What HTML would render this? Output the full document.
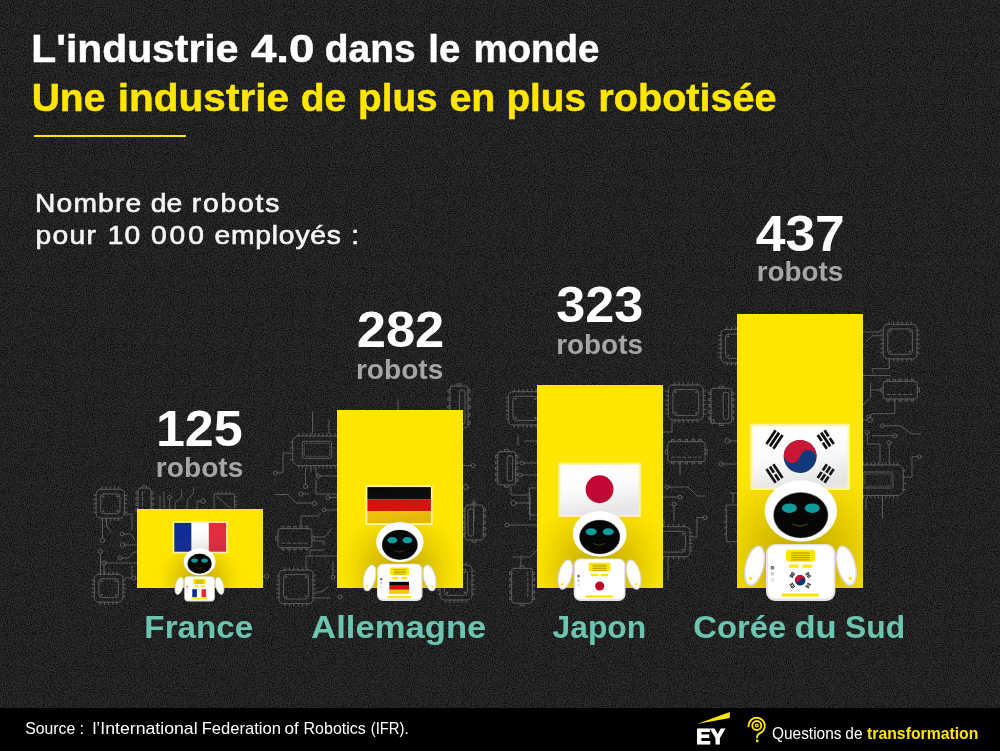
<!DOCTYPE html>
<html lang="fr"><head><meta charset="utf-8"><title>L'industrie 4.0 dans le monde</title>
<style>
html,body{margin:0;padding:0;background:#232323;}
#page{position:relative;width:1000px;height:751px;overflow:hidden;background:#232323;}
svg{display:block;position:absolute;left:0;top:0;}
text{font-family:"Liberation Sans",sans-serif;}
</style></head><body><div id="page">
<svg width="1000" height="751" viewBox="0 0 1000 751">
<defs>
<filter id="noise" x="0" y="0" width="100%" height="100%" color-interpolation-filters="sRGB">
<feTurbulence type="fractalNoise" baseFrequency="0.95" numOctaves="2" seed="4"/>
<feColorMatrix type="matrix" values="2.6 0 0 0 -0.86  2.6 0 0 0 -0.86  2.6 0 0 0 -0.86  0 0 0 0 1"/>
<feComponentTransfer><feFuncR type="table" tableValues="0.07 0.09 0.135 0.162 0.174 0.181"/><feFuncG type="table" tableValues="0.07 0.09 0.135 0.162 0.174 0.181"/><feFuncB type="table" tableValues="0.07 0.09 0.135 0.162 0.174 0.181"/></feComponentTransfer>
</filter>
<radialGradient id="shadow" cx="0.5" cy="0.5" r="0.5">
<stop offset="0" stop-color="#b89f00" stop-opacity="0.85"/>
<stop offset="0.45" stop-color="#c4aa00" stop-opacity="0.55"/>
<stop offset="1" stop-color="#d8bf00" stop-opacity="0"/>
</radialGradient>
<linearGradient id="sheen" x1="0" y1="0" x2="0.25" y2="1">
<stop offset="0" stop-color="#ffffff" stop-opacity="0.0"/>
<stop offset="0.55" stop-color="#888888" stop-opacity="0.04"/>
<stop offset="1" stop-color="#555555" stop-opacity="0.15"/>
</linearGradient>
<radialGradient id="headg" cx="0.45" cy="0.35" r="0.75">
<stop offset="0" stop-color="#ffffff"/><stop offset="0.8" stop-color="#ffffff"/><stop offset="1" stop-color="#dcdcdc"/>
</radialGradient>
<radialGradient id="armg" cx="0.5" cy="0.45" r="0.6">
<stop offset="0" stop-color="#ffffff"/><stop offset="0.75" stop-color="#ffffff"/><stop offset="1" stop-color="#e6e6e6"/>
</radialGradient>

<clipPath id="cb0"><rect x="137" y="509" width="126" height="79"/></clipPath>
<clipPath id="cb1"><rect x="337" y="410" width="126" height="178"/></clipPath>
<clipPath id="cb2"><rect x="537" y="385" width="126" height="203"/></clipPath>
<clipPath id="cb3"><rect x="737" y="314" width="126" height="274"/></clipPath>
</defs>
<rect width="1000" height="751" fill="#202020"/>
<rect width="1000" height="751" filter="url(#noise)"/>
<g fill="none" stroke="#666666" stroke-width="1" stroke-opacity="0.85" stroke-linecap="round" stroke-linejoin="round"><rect x="96.1" y="489.3" width="28.4" height="28.9" rx="4.5"/><rect x="100.7" y="493.9" width="19.2" height="19.7" rx="3.2"/><path d="M102.1,489.3v-2.4M102.1,518.2v2.4M96.1,495.3h-2.4M124.5,495.3h2.4M106.2,489.3v-2.4M106.2,518.2v2.4M96.1,499.5h-2.4M124.5,499.5h2.4M110.3,489.3v-2.4M110.3,518.2v2.4M96.1,503.8h-2.4M124.5,503.8h2.4M114.4,489.3v-2.4M114.4,518.2v2.4M96.1,508.0h-2.4M124.5,508.0h2.4M118.5,489.3v-2.4M118.5,518.2v2.4M96.1,512.2h-2.4M124.5,512.2h2.4"/><circle cx="103.3" cy="496.5" r="0.6"/><circle cx="117.3" cy="496.5" r="0.6"/><circle cx="103.3" cy="511.0" r="0.6"/><circle cx="117.3" cy="511.0" r="0.6"/><rect x="94.3" y="574.2" width="28.7" height="28.0" rx="4.5"/><rect x="98.9" y="578.8" width="19.5" height="18.8" rx="3.2"/><path d="M100.3,574.2v-2.4M100.3,602.2v2.4M94.3,580.2h-2.4M123.0,580.2h2.4M104.5,574.2v-2.4M104.5,602.2v2.4M94.3,584.2h-2.4M123.0,584.2h2.4M108.7,574.2v-2.4M108.7,602.2v2.4M94.3,588.2h-2.4M123.0,588.2h2.4M112.8,574.2v-2.4M112.8,602.2v2.4M94.3,592.2h-2.4M123.0,592.2h2.4M117.0,574.2v-2.4M117.0,602.2v2.4M94.3,596.2h-2.4M123.0,596.2h2.4"/><circle cx="101.5" cy="581.4" r="0.6"/><circle cx="115.8" cy="581.4" r="0.6"/><circle cx="101.5" cy="595.0" r="0.6"/><circle cx="115.8" cy="595.0" r="0.6"/><path d="M102.5,518.5V538"/><circle cx="102.5" cy="540.3" r="2.2"/><path d="M106.5,518.5V526L111,532"/><path d="M100.5,553.6V574"/><circle cx="100.5" cy="551.5" r="2.1"/><path d="M124,534H131L135,540"/><circle cx="122" cy="534" r="1.9"/><path d="M124.8,545H137"/><circle cx="122.6" cy="545" r="2.2"/><path d="M121.9,558H129L134,552H137"/><circle cx="120" cy="558" r="1.9"/><path d="M106,563H137M104,565V574"/><circle cx="104" cy="563" r="2"/><path d="M132,566V576M125,578H131.5"/><circle cx="133.7" cy="578" r="2.1"/><path d="M124.5,514H132V530"/><rect x="138.0" y="488.0" width="13.0" height="27.0" rx="2.5"/><path d="M138.0,491.8h-2.2v2.4h2.2M151.0,491.8h2.2v2.4h-2.2M138.0,497.5h-2.2v2.4h2.2M151.0,497.5h2.2v2.4h-2.2M138.0,503.1h-2.2v2.4h2.2M151.0,503.1h2.2v2.4h-2.2M138.0,508.8h-2.2v2.4h2.2M151.0,508.8h2.2v2.4h-2.2M142.5,488.0v-2.2h4v2.2M142.5,515.0v2.2h4v-2.2"/><path d="M142.5,492.0V511.0" stroke-dasharray="3.2 2.2"/><path d="M169.6,499.4V509"/><circle cx="169.6" cy="497.3" r="2"/><path d="M175.2,509V503L181.6,497V490"/><path d="M187.2,509V500L193.6,493V488"/><path d="M201,501.2H197V509"/><circle cx="203.3" cy="501.2" r="2.3"/><path d="M160,509V496M164,509V492"/><path d="M214.4,494H234.4V512H214.4ZM216.5,496L232.5,510"/><path d="M218,494v-2.4M222,494v-2.4M226,494v-2.4M230,494v-2.4M234.4,497h2.4M234.4,501h2.4M234.4,505h2.4"/><path d="M263,576.4H264.3"/><circle cx="266.5" cy="576.3" r="2.1"/><path d="M296.7,436.0H341.0L345.0,440.0V461.6L341.0,465.6H296.7L292.7,461.6V440.0Z"/><rect x="302.3" y="441.3" width="29.4" height="17.0" rx="1.5"/><rect x="304.3" y="443.3" width="25.4" height="13.0" rx="1" opacity="0.6"/><path d="M298.7,436.0v-2.4M298.7,465.6v2.4M302.7,436.0v-2.4M302.7,465.6v2.4M306.8,436.0v-2.4M306.8,465.6v2.4M310.8,436.0v-2.4M310.8,465.6v2.4M314.8,436.0v-2.4M314.8,465.6v2.4M318.9,436.0v-2.4M318.9,465.6v2.4M322.9,436.0v-2.4M322.9,465.6v2.4M326.9,436.0v-2.4M326.9,465.6v2.4M330.9,436.0v-2.4M330.9,465.6v2.4M335.0,436.0v-2.4M335.0,465.6v2.4M339.0,436.0v-2.4M339.0,465.6v2.4M292.7,442.0h-2.4M345.0,442.0h2.4M292.7,447.9h-2.4M345.0,447.9h2.4M292.7,453.7h-2.4M345.0,453.7h2.4M292.7,459.6h-2.4M345.0,459.6h2.4"/><path d="M312.5,412V433.5M329,420V433.5M398,400V410"/><path d="M290.3,453H283V473H277.6"/><circle cx="275.5" cy="473" r="2.1"/><path d="M305.5,468V484.3"/><circle cx="305.5" cy="486.5" r="2.1"/><path d="M311,468V472M316,468V474L318,476"/><path d="M320.2,476H337M316,480V494H337"/><circle cx="318.2" cy="476" r="2"/><path d="M303,494H309"/><circle cx="300.8" cy="494" r="2.1"/><path d="M275,494.5H288L296,503H312.3"/><circle cx="314.5" cy="503.5" r="2.1"/><path d="M330,497.5H337"/><circle cx="328" cy="497.5" r="2"/><path d="M326,510H337"/><circle cx="324" cy="510" r="2"/><path d="M301,526.2V516H318L321,513"/><rect x="278.0" y="528.6" width="33.9" height="19.1" rx="2.5"/><path d="M281.8,528.6v-2.2h2.4v2.2M281.8,547.7v2.2h2.4v-2.2M287.8,528.6v-2.2h2.4v2.2M287.8,547.7v2.2h2.4v-2.2M293.8,528.6v-2.2h2.4v2.2M293.8,547.7v2.2h2.4v-2.2M299.7,528.6v-2.2h2.4v2.2M299.7,547.7v2.2h2.4v-2.2M305.7,528.6v-2.2h2.4v2.2M305.7,547.7v2.2h2.4v-2.2M278.0,536.2h-2.2v4h2.2M311.9,536.2h2.2v4h-2.2"/><path d="M282.0,543.2H307.9" stroke-dasharray="3.2 2.2"/><path d="M314.2,537H325L331,529M314.2,541H324V545"/><path d="M306,567.5V556H337M310,556V550H324"/><rect x="279.0" y="570.0" width="34.0" height="33.6" rx="4.5"/><rect x="283.6" y="574.6" width="24.8" height="24.4" rx="3.2"/><path d="M285.0,570.0v-2.4M285.0,603.6v2.4M279.0,576.0h-2.4M313.0,576.0h2.4M289.4,570.0v-2.4M289.4,603.6v2.4M279.0,580.3h-2.4M313.0,580.3h2.4M293.8,570.0v-2.4M293.8,603.6v2.4M279.0,584.6h-2.4M313.0,584.6h2.4M298.2,570.0v-2.4M298.2,603.6v2.4M279.0,589.0h-2.4M313.0,589.0h2.4M302.6,570.0v-2.4M302.6,603.6v2.4M279.0,593.3h-2.4M313.0,593.3h2.4M307.0,570.0v-2.4M307.0,603.6v2.4M279.0,597.6h-2.4M313.0,597.6h2.4"/><circle cx="286.2" cy="577.2" r="0.6"/><circle cx="305.8" cy="577.2" r="0.6"/><circle cx="286.2" cy="596.4" r="0.6"/><circle cx="305.8" cy="596.4" r="0.6"/><path d="M315.5,592H322L328,587M315.5,598H330"/><circle cx="340" cy="597" r="2"/><path d="M333,562V575"/><circle cx="333" cy="577.2" r="2"/><rect x="450.0" y="386.0" width="18.0" height="42.0" rx="2.5"/><path d="M450.0,389.8h-2.2v2.4h2.2M468.0,389.8h2.2v2.4h-2.2M450.0,397.8h-2.2v2.4h2.2M468.0,397.8h2.2v2.4h-2.2M450.0,405.8h-2.2v2.4h2.2M468.0,405.8h2.2v2.4h-2.2M450.0,413.8h-2.2v2.4h2.2M468.0,413.8h2.2v2.4h-2.2M450.0,421.8h-2.2v2.4h2.2M468.0,421.8h2.2v2.4h-2.2M457.0,386.0v-2.2h4v2.2M457.0,428.0v2.2h4v-2.2"/><rect x="459.5" y="390.0" width="5.5" height="34.0" rx="2.2"/><rect x="508.3" y="391.7" width="33.7" height="33.3" rx="4.5"/><rect x="512.9" y="396.3" width="24.5" height="24.1" rx="3.2"/><path d="M514.3,391.7v-2.4M514.3,425.0v2.4M508.3,397.7h-2.4M542.0,397.7h2.4M518.6,391.7v-2.4M518.6,425.0v2.4M508.3,402.0h-2.4M542.0,402.0h2.4M523.0,391.7v-2.4M523.0,425.0v2.4M508.3,406.2h-2.4M542.0,406.2h2.4M527.3,391.7v-2.4M527.3,425.0v2.4M508.3,410.5h-2.4M542.0,410.5h2.4M531.7,391.7v-2.4M531.7,425.0v2.4M508.3,414.7h-2.4M542.0,414.7h2.4M536.0,391.7v-2.4M536.0,425.0v2.4M508.3,419.0h-2.4M542.0,419.0h2.4"/><circle cx="515.5" cy="398.9" r="0.6"/><circle cx="534.8" cy="398.9" r="0.6"/><circle cx="515.5" cy="417.8" r="0.6"/><circle cx="534.8" cy="417.8" r="0.6"/><path d="M525,441H537M518,436V445"/><rect x="497.7" y="451.7" width="18.0" height="33.3" rx="2.5"/><path d="M497.7,455.5h-2.2v2.4h2.2M515.7,455.5h2.2v2.4h-2.2M497.7,461.3h-2.2v2.4h2.2M515.7,461.3h2.2v2.4h-2.2M497.7,467.2h-2.2v2.4h2.2M515.7,467.2h2.2v2.4h-2.2M497.7,473.0h-2.2v2.4h2.2M515.7,473.0h2.2v2.4h-2.2M497.7,478.8h-2.2v2.4h2.2M515.7,478.8h2.2v2.4h-2.2M504.7,451.7v-2.2h4v2.2M504.7,485.0v2.2h4v-2.2"/><rect x="507.2" y="455.7" width="5.5" height="25.3" rx="2.2"/><path d="M463,465.5H471"/><circle cx="473" cy="465.5" r="2"/><path d=""/><circle cx="466" cy="487" r="2.5"/><path d="M524,463H537M522,475H537"/><circle cx="522" cy="463" r="2"/><circle cx="520" cy="475" r="2"/><path d="M511,487.3V495H530V520M516,503H530"/><circle cx="513.5" cy="503" r="2.5"/><path d="M509,525H537"/><circle cx="507" cy="525" r="2"/><rect x="465.0" y="505.0" width="18.3" height="35.0" rx="2.5"/><path d="M465.0,508.8h-2.2v2.4h2.2M483.3,508.8h2.2v2.4h-2.2M465.0,515.0h-2.2v2.4h2.2M483.3,515.0h2.2v2.4h-2.2M465.0,521.3h-2.2v2.4h2.2M483.3,521.3h2.2v2.4h-2.2M465.0,527.5h-2.2v2.4h2.2M483.3,527.5h2.2v2.4h-2.2M465.0,533.8h-2.2v2.4h2.2M483.3,533.8h2.2v2.4h-2.2M472.1,505.0v-2.2h4v2.2M472.1,540.0v2.2h4v-2.2"/><rect x="468.0" y="509.0" width="5.5" height="27.0" rx="2.2"/><path d="M530,488H545V515H530ZM530,493h-2.4M530,498h-2.4M530,503h-2.4M530,508h-2.4"/><path d="M513,557H530L537,550M521,557V566"/><rect x="511.7" y="568.3" width="20.6" height="35.0" rx="2.5"/><path d="M511.7,572.1h-2.2v2.4h2.2M532.3,572.1h2.2v2.4h-2.2M511.7,578.3h-2.2v2.4h2.2M532.3,578.3h2.2v2.4h-2.2M511.7,584.6h-2.2v2.4h2.2M532.3,584.6h2.2v2.4h-2.2M511.7,590.8h-2.2v2.4h2.2M532.3,590.8h2.2v2.4h-2.2M511.7,597.1h-2.2v2.4h2.2M532.3,597.1h2.2v2.4h-2.2M520.0,568.3v-2.2h4v2.2M520.0,603.3v2.2h4v-2.2"/><path d="M527.8,572.3V599.3" stroke-dasharray="3.2 2.2"/><rect x="440.0" y="565.0" width="32.0" height="35.0" rx="4.5"/><rect x="444.6" y="569.6" width="22.8" height="25.8" rx="3.2"/><path d="M446.0,565.0v-2.4M446.0,600.0v2.4M440.0,571.0h-2.4M472.0,571.0h2.4M450.0,565.0v-2.4M450.0,600.0v2.4M440.0,575.6h-2.4M472.0,575.6h2.4M454.0,565.0v-2.4M454.0,600.0v2.4M440.0,580.2h-2.4M472.0,580.2h2.4M458.0,565.0v-2.4M458.0,600.0v2.4M440.0,584.8h-2.4M472.0,584.8h2.4M462.0,565.0v-2.4M462.0,600.0v2.4M440.0,589.4h-2.4M472.0,589.4h2.4M466.0,565.0v-2.4M466.0,600.0v2.4M440.0,594.0h-2.4M472.0,594.0h2.4"/><circle cx="447.2" cy="572.2" r="0.6"/><circle cx="464.8" cy="572.2" r="0.6"/><circle cx="447.2" cy="592.8" r="0.6"/><circle cx="464.8" cy="592.8" r="0.6"/><path d="M474,520V500"/><rect x="668.3" y="385.0" width="35.0" height="35.0" rx="4.5"/><rect x="672.9" y="389.6" width="25.8" height="25.8" rx="3.2"/><path d="M674.3,385.0v-2.4M674.3,420.0v2.4M668.3,391.0h-2.4M703.3,391.0h2.4M678.9,385.0v-2.4M678.9,420.0v2.4M668.3,395.6h-2.4M703.3,395.6h2.4M683.5,385.0v-2.4M683.5,420.0v2.4M668.3,400.2h-2.4M703.3,400.2h2.4M688.1,385.0v-2.4M688.1,420.0v2.4M668.3,404.8h-2.4M703.3,404.8h2.4M692.7,385.0v-2.4M692.7,420.0v2.4M668.3,409.4h-2.4M703.3,409.4h2.4M697.3,385.0v-2.4M697.3,420.0v2.4M668.3,414.0h-2.4M703.3,414.0h2.4"/><circle cx="675.5" cy="392.2" r="0.6"/><circle cx="696.1" cy="392.2" r="0.6"/><circle cx="675.5" cy="412.8" r="0.6"/><circle cx="696.1" cy="412.8" r="0.6"/><rect x="711.0" y="388.3" width="20.7" height="35.0" rx="2.5"/><path d="M711.0,392.1h-2.2v2.4h2.2M731.7,392.1h2.2v2.4h-2.2M711.0,398.4h-2.2v2.4h2.2M731.7,398.4h2.2v2.4h-2.2M711.0,404.6h-2.2v2.4h2.2M731.7,404.6h2.2v2.4h-2.2M711.0,410.9h-2.2v2.4h2.2M731.7,410.9h2.2v2.4h-2.2M711.0,417.1h-2.2v2.4h2.2M731.7,417.1h2.2v2.4h-2.2M719.4,388.3v-2.2h4v2.2M719.4,423.3v2.2h4v-2.2"/><rect x="723.2" y="392.3" width="5.5" height="27.0" rx="2.2"/><path d=""/><circle cx="712.5" cy="421.5" r="2"/><path d="M663,432H672V422.5"/><rect x="667.7" y="441.7" width="37.3" height="20.0" rx="2.5"/><path d="M671.5,441.7v-2.2h2.4v2.2M671.5,461.7v2.2h2.4v-2.2M678.3,441.7v-2.2h2.4v2.2M678.3,461.7v2.2h2.4v-2.2M685.1,441.7v-2.2h2.4v2.2M685.1,461.7v2.2h2.4v-2.2M692.0,441.7v-2.2h2.4v2.2M692.0,461.7v2.2h2.4v-2.2M698.8,441.7v-2.2h2.4v2.2M698.8,461.7v2.2h2.4v-2.2M667.7,449.7h-2.2v4h2.2M705.0,449.7h2.2v4h-2.2"/><path d="M671.7,457.2H701.0" stroke-dasharray="3.2 2.2"/><path d="M730,441H737"/><circle cx="727.5" cy="441" r="2.5"/><path d="M723,464H737"/><circle cx="721" cy="464" r="2"/><path d="M680,464V475"/><path d="M669,487H688L697,496H706"/><circle cx="667" cy="487" r="2"/><path d="M678,497H663"/><circle cx="680" cy="497" r="2"/><path d="M674,506V520"/><circle cx="674" cy="504" r="2"/><path d="M703,517.5H697V537H692.5"/><circle cx="705" cy="517.5" r="2"/><rect x="652.0" y="526.7" width="38.0" height="30.0" rx="4.5"/><rect x="656.6" y="531.3" width="28.8" height="20.8" rx="3.2"/><path d="M658.0,526.7v-2.4M658.0,556.7v2.4M652.0,532.7h-2.4M690.0,532.7h2.4M663.2,526.7v-2.4M663.2,556.7v2.4M652.0,536.3h-2.4M690.0,536.3h2.4M668.4,526.7v-2.4M668.4,556.7v2.4M652.0,539.9h-2.4M690.0,539.9h2.4M673.6,526.7v-2.4M673.6,556.7v2.4M652.0,543.5h-2.4M690.0,543.5h2.4M678.8,526.7v-2.4M678.8,556.7v2.4M652.0,547.1h-2.4M690.0,547.1h2.4M684.0,526.7v-2.4M684.0,556.7v2.4M652.0,550.7h-2.4M690.0,550.7h2.4"/><circle cx="659.2" cy="533.9" r="0.6"/><circle cx="682.8" cy="533.9" r="0.6"/><circle cx="659.2" cy="549.5" r="0.6"/><circle cx="682.8" cy="549.5" r="0.6"/><path d="M668,559V580M664,520V526"/><path d="M726.7,505H745V541.7H726.7ZM726.7,510h-2.4M726.7,516h-2.4M726.7,522h-2.4M726.7,528h-2.4M726.7,534h-2.4"/><path d="M730,493H737M733,493V502.6"/><rect x="721.0" y="329.5" width="34.0" height="33.5" rx="4.5"/><rect x="725.6" y="334.1" width="24.8" height="24.3" rx="3.2"/><path d="M727.0,329.5v-2.4M727.0,363.0v2.4M721.0,335.5h-2.4M755.0,335.5h2.4M731.4,329.5v-2.4M731.4,363.0v2.4M721.0,339.8h-2.4M755.0,339.8h2.4M735.8,329.5v-2.4M735.8,363.0v2.4M721.0,344.1h-2.4M755.0,344.1h2.4M740.2,329.5v-2.4M740.2,363.0v2.4M721.0,348.4h-2.4M755.0,348.4h2.4M744.6,329.5v-2.4M744.6,363.0v2.4M721.0,352.7h-2.4M755.0,352.7h2.4M749.0,329.5v-2.4M749.0,363.0v2.4M721.0,357.0h-2.4M755.0,357.0h2.4"/><circle cx="728.2" cy="336.7" r="0.6"/><circle cx="747.8" cy="336.7" r="0.6"/><circle cx="728.2" cy="355.8" r="0.6"/><circle cx="747.8" cy="355.8" r="0.6"/><rect x="883.2" y="324.3" width="33.8" height="34.6" rx="4.5"/><rect x="887.8" y="328.9" width="24.6" height="25.4" rx="3.2"/><path d="M889.2,324.3v-2.4M889.2,358.9v2.4M883.2,330.3h-2.4M917.0,330.3h2.4M893.6,324.3v-2.4M893.6,358.9v2.4M883.2,334.8h-2.4M917.0,334.8h2.4M897.9,324.3v-2.4M897.9,358.9v2.4M883.2,339.3h-2.4M917.0,339.3h2.4M902.3,324.3v-2.4M902.3,358.9v2.4M883.2,343.9h-2.4M917.0,343.9h2.4M906.6,324.3v-2.4M906.6,358.9v2.4M883.2,348.4h-2.4M917.0,348.4h2.4M911.0,324.3v-2.4M911.0,358.9v2.4M883.2,352.9h-2.4M917.0,352.9h2.4"/><circle cx="890.4" cy="331.5" r="0.6"/><circle cx="909.8" cy="331.5" r="0.6"/><circle cx="890.4" cy="351.7" r="0.6"/><circle cx="909.8" cy="351.7" r="0.6"/><path d="M863,332H880.8M867,341L872.3,335.8H880.8"/><path d="M889.3,361.3V368.7H872.3V373M863,375.5H889.6"/><rect x="883.2" y="381.3" width="34.1" height="17.7" rx="2.5"/><path d="M887.0,381.3v-2.2h2.4v2.2M887.0,399.0v2.2h2.4v-2.2M893.0,381.3v-2.2h2.4v2.2M893.0,399.0v2.2h2.4v-2.2M899.0,381.3v-2.2h2.4v2.2M899.0,399.0v2.2h2.4v-2.2M905.1,381.3v-2.2h2.4v2.2M905.1,399.0v2.2h2.4v-2.2M911.1,381.3v-2.2h2.4v2.2M911.1,399.0v2.2h2.4v-2.2M883.2,388.1h-2.2v4h2.2M917.3,388.1h2.2v4h-2.2"/><path d="M887.2,394.5H913.3" stroke-dasharray="3.2 2.2"/><path d="M870.6,383V397L863,405M870.6,390H881"/><path d="M894.8,401.2V413.7H872L870,415.5"/><circle cx="868.5" cy="416.5" r="1.8"/><path d="M863,420H867.5"/><circle cx="870" cy="420" r="2.5"/><path d="M884.3,425.7H900L912,434H921"/><circle cx="882.3" cy="425.7" r="2"/><path d="M867.3,434.3V444H880V463"/><circle cx="867.3" cy="432.3" r="2"/><path d="M893,435.7H872"/><circle cx="895" cy="435.7" r="2"/><path d="M889.3,444.7V463"/><circle cx="889.3" cy="442.7" r="2"/><path d="M917.3,456.7H912V477H906"/><circle cx="919.3" cy="456.7" r="2"/><path d="M854.0,465.0H899.3L903.3,469.0V491.5L899.3,495.5H854.0L850.0,491.5V469.0Z"/><rect x="863.0" y="472.0" width="30.0" height="16.0" rx="1.5"/><rect x="865.0" y="474.0" width="26.0" height="12.0" rx="1" opacity="0.6"/><path d="M856.0,465.0v-2.4M856.0,495.5v2.4M859.8,465.0v-2.4M859.8,495.5v2.4M863.5,465.0v-2.4M863.5,495.5v2.4M867.3,465.0v-2.4M867.3,495.5v2.4M871.0,465.0v-2.4M871.0,495.5v2.4M874.8,465.0v-2.4M874.8,495.5v2.4M878.5,465.0v-2.4M878.5,495.5v2.4M882.3,465.0v-2.4M882.3,495.5v2.4M886.0,465.0v-2.4M886.0,495.5v2.4M889.8,465.0v-2.4M889.8,495.5v2.4M893.5,465.0v-2.4M893.5,495.5v2.4M897.3,465.0v-2.4M897.3,495.5v2.4M850.0,471.0h-2.4M903.3,471.0h2.4M850.0,477.2h-2.4M903.3,477.2h2.4M850.0,483.3h-2.4M903.3,483.3h2.4M850.0,489.5h-2.4M903.3,489.5h2.4"/><path d="M866,498V510M882.5,498V518"/></g>
<rect x="137" y="509" width="126" height="79" fill="#ffe600"/>
<g clip-path="url(#cb0)"><ellipse cx="199.6" cy="578.5" rx="41.8" ry="39.7" fill="url(#shadow)"/><ellipse cx="199.6" cy="588.2" rx="34.3" ry="22.9" fill="url(#shadow)" opacity="0.55"/></g>
<rect x="337" y="410" width="126" height="178" fill="#ffe600"/>
<g clip-path="url(#cb1)"><ellipse cx="399.8" cy="566.9" rx="62.2" ry="59.1" fill="url(#shadow)"/><ellipse cx="399.8" cy="581.4" rx="51.1" ry="34.1" fill="url(#shadow)" opacity="0.55"/></g>
<rect x="537" y="385" width="126" height="203" fill="#ffe600"/>
<g clip-path="url(#cb2)"><ellipse cx="599.7" cy="562.2" rx="70.8" ry="67.2" fill="url(#shadow)"/><ellipse cx="599.7" cy="578.5" rx="58.1" ry="38.7" fill="url(#shadow)" opacity="0.55"/></g>
<rect x="737" y="314" width="126" height="274" fill="#ffe600"/>
<g clip-path="url(#cb3)"><ellipse cx="800.8" cy="549.0" rx="95.0" ry="90.2" fill="url(#shadow)"/><ellipse cx="800.8" cy="571.0" rx="78.0" ry="52.0" fill="url(#shadow)" opacity="0.55"/></g>
<rect x="172.7" y="521.3" width="55.0" height="32.0" fill="#fff3a6"/><g transform="translate(174.29999999999998,522.9)"><rect width="17.27" height="28.80" fill="#0a2a94"/><rect x="17.27" width="17.27" height="28.80" fill="#ffffff"/><rect x="34.53" width="17.27" height="28.80" fill="#e8283c"/><rect width="51.8" height="28.8" fill="url(#sheen)"/></g>
<rect x="365.6" y="485.3" width="67.1" height="39.7" fill="#fff3a6"/><g transform="translate(367.40000000000003,487.1)"><rect width="63.50" height="12.03" fill="#080808"/><rect y="12.03" width="63.50" height="12.03" fill="#dd0a0a"/><rect y="24.07" width="63.50" height="12.03" fill="#fbc900"/><rect width="63.5" height="36.1" fill="url(#sheen)"/></g>
<rect x="558.3" y="462.7" width="82.5" height="54.3" fill="#fff3a6"/><g transform="translate(560.5,464.9)"><rect width="78.10" height="49.90" fill="#ffffff"/><circle cx="39.05" cy="24.35" r="13.9" fill="#c4002f"/><rect width="78.1" height="49.9" fill="url(#sheen)"/></g>
<rect x="750.2" y="423.8" width="99.8" height="66.2" fill="#fff3a6"/><g transform="translate(752.7,426.3)"><rect width="94.80" height="61.20" fill="#ffffff"/><g transform="translate(47.40,30.20)"><g transform="rotate(13)"><circle r="16.5" fill="#08357a"/><path d="M-16.5,0 A16.5,16.5 0 0 1 16.5,0 A8.25,8.25 0 0 0 0,0 A8.25,8.25 0 0 1 -16.5,0 Z" fill="#ca1231"/></g><g transform="translate(-25.6,-17) rotate(123.58664565362278)" fill="#0a0a0a"><rect x="-8.25" y="-5.49" width="16.50" height="2.72"/><rect x="-8.25" y="-1.36" width="16.50" height="2.72"/><rect x="-8.25" y="2.76" width="16.50" height="2.72"/></g><g transform="translate(25.6,17) rotate(-56.41335434637721)" fill="#0a0a0a"><rect x="-8.25" y="-5.49" width="7.26" height="2.72"/><rect x="0.99" y="-5.49" width="7.26" height="2.72"/><rect x="-8.25" y="-1.36" width="7.26" height="2.72"/><rect x="0.99" y="-1.36" width="7.26" height="2.72"/><rect x="-8.25" y="2.76" width="7.26" height="2.72"/><rect x="0.99" y="2.76" width="7.26" height="2.72"/></g><g transform="translate(25.6,-17) rotate(56.41335434637721)" fill="#0a0a0a"><rect x="-8.25" y="-5.49" width="7.26" height="2.72"/><rect x="0.99" y="-5.49" width="7.26" height="2.72"/><rect x="-8.25" y="-1.36" width="16.50" height="2.72"/><rect x="-8.25" y="2.76" width="7.26" height="2.72"/><rect x="0.99" y="2.76" width="7.26" height="2.72"/></g><g transform="translate(-25.6,17) rotate(236.41335434637722)" fill="#0a0a0a"><rect x="-8.25" y="-5.49" width="16.50" height="2.72"/><rect x="-8.25" y="-1.36" width="7.26" height="2.72"/><rect x="0.99" y="-1.36" width="7.26" height="2.72"/><rect x="-8.25" y="2.76" width="16.50" height="2.72"/></g></g><rect width="94.8" height="61.2" fill="url(#sheen)"/></g>
<g transform="translate(199.6,601.4) scale(0.44)">
<g transform="translate(-46.2,-35.3) rotate(14)"><ellipse rx="8.8" ry="20" fill="url(#armg)" stroke="#d9d9e0" stroke-width="1.5"/></g>
<g transform="translate(45.6,-35.3) rotate(-14)"><ellipse rx="8.8" ry="20" fill="url(#armg)" stroke="#d9d9e0" stroke-width="1.5"/></g>
<circle cx="-50.3" cy="-22.6" r="1.6" fill="#ffe600"/><circle cx="49.5" cy="-22.6" r="1.6" fill="#ffe600"/>
<rect x="-34.8" y="-57" width="69.4" height="57" rx="9" fill="#e2e2e2"/>
<rect x="-33" y="-55.6" width="65.8" height="53" rx="7.5" fill="#ffffff"/>
<rect x="-14.8" y="-51.3" width="29.2" height="12" rx="2.6" fill="#ffe600"/>
<rect x="-9.6" y="-48.5" width="18.7" height="1" fill="#a89200"/>
<rect x="-9.6" y="-46.2" width="18.7" height="1" fill="#a89200"/>
<rect x="-9.6" y="-43.9" width="18.7" height="1" fill="#a89200"/>
<rect x="-9.6" y="-41.6" width="18.7" height="1" fill="#a89200"/>
<rect x="-11.8" y="-36.5" width="9.6" height="3.3" rx="0.6" fill="#ffe600"/>
<rect x="1.6" y="-36.5" width="9.6" height="3.3" rx="0.6" fill="#ffe600"/>
<rect x="-30.1" y="-35" width="3.4" height="3.5" fill="#7a7a7a"/>
<rect x="-30.1" y="-29" width="3.4" height="3.5" fill="#cfcfcf"/>
<rect x="-30.1" y="-23" width="3.4" height="3.5" fill="#e4e4e4"/>
<rect x="-18.9" y="-7.5" width="36.9" height="3.2" fill="#ffe600"/>
<g transform="translate(-0.6,-20.7)"><rect x="-16" y="-7" width="10.5" height="18.2" fill="#0a2a94"/><rect x="-5.5" y="-7" width="10.4" height="18.2" fill="#ffffff"/><rect x="4.9" y="-7" width="10.5" height="18.2" fill="#e8283c"/></g>
<ellipse cx="0.05" cy="-90" rx="36.1" ry="30.8" fill="url(#headg)"/>
<ellipse cx="0" cy="-85.8" rx="27.6" ry="23.1" fill="#8c8c8c"/>
<ellipse cx="0" cy="-85.8" rx="26.9" ry="22.5" fill="#070707"/>
<ellipse cx="-11.4" cy="-92.8" rx="7.5" ry="4.8" fill="#0f9b9b"/>
<ellipse cx="11.5" cy="-92.8" rx="7.5" ry="4.8" fill="#0f9b9b"/>
<path d="M-8.4,-77 L-0.8,-74.6 L6.8,-77" fill="none" stroke="#5e4d10" stroke-width="1"/>
</g>
<g transform="translate(399.8,601) scale(0.655)">
<g transform="translate(-46.2,-35.3) rotate(14)"><ellipse rx="8.8" ry="20" fill="url(#armg)" stroke="#d9d9e0" stroke-width="1.5"/></g>
<g transform="translate(45.6,-35.3) rotate(-14)"><ellipse rx="8.8" ry="20" fill="url(#armg)" stroke="#d9d9e0" stroke-width="1.5"/></g>
<circle cx="-50.3" cy="-22.6" r="1.6" fill="#ffe600"/><circle cx="49.5" cy="-22.6" r="1.6" fill="#ffe600"/>
<rect x="-34.8" y="-57" width="69.4" height="57" rx="9" fill="#e2e2e2"/>
<rect x="-33" y="-55.6" width="65.8" height="53" rx="7.5" fill="#ffffff"/>
<rect x="-14.8" y="-51.3" width="29.2" height="12" rx="2.6" fill="#ffe600"/>
<rect x="-9.6" y="-48.5" width="18.7" height="1" fill="#a89200"/>
<rect x="-9.6" y="-46.2" width="18.7" height="1" fill="#a89200"/>
<rect x="-9.6" y="-43.9" width="18.7" height="1" fill="#a89200"/>
<rect x="-9.6" y="-41.6" width="18.7" height="1" fill="#a89200"/>
<rect x="-11.8" y="-36.5" width="9.6" height="3.3" rx="0.6" fill="#ffe600"/>
<rect x="1.6" y="-36.5" width="9.6" height="3.3" rx="0.6" fill="#ffe600"/>
<rect x="-30.1" y="-35" width="3.4" height="3.5" fill="#7a7a7a"/>
<rect x="-30.1" y="-29" width="3.4" height="3.5" fill="#cfcfcf"/>
<rect x="-30.1" y="-23" width="3.4" height="3.5" fill="#e4e4e4"/>
<rect x="-18.9" y="-7.5" width="36.9" height="3.2" fill="#ffe600"/>
<g transform="translate(-0.6,-20.7)"><rect x="-15.3" y="-8.6" width="30" height="6.1" fill="#0a0a0a"/><rect x="-15.3" y="-2.5" width="30" height="6.1" fill="#dd0a0a"/><rect x="-15.3" y="3.6" width="30" height="6.1" fill="#f6c800"/></g>
<ellipse cx="0.05" cy="-90" rx="36.1" ry="30.8" fill="url(#headg)"/>
<ellipse cx="0" cy="-85.8" rx="27.6" ry="23.1" fill="#8c8c8c"/>
<ellipse cx="0" cy="-85.8" rx="26.9" ry="22.5" fill="#070707"/>
<ellipse cx="-11.4" cy="-92.8" rx="7.5" ry="4.8" fill="#0f9b9b"/>
<ellipse cx="11.5" cy="-92.8" rx="7.5" ry="4.8" fill="#0f9b9b"/>
<path d="M-8.4,-77 L-0.8,-74.6 L6.8,-77" fill="none" stroke="#5e4d10" stroke-width="1"/>
</g>
<g transform="translate(599.7,600.9) scale(0.745)">
<g transform="translate(-46.2,-35.3) rotate(14)"><ellipse rx="8.8" ry="20" fill="url(#armg)" stroke="#d9d9e0" stroke-width="1.5"/></g>
<g transform="translate(45.6,-35.3) rotate(-14)"><ellipse rx="8.8" ry="20" fill="url(#armg)" stroke="#d9d9e0" stroke-width="1.5"/></g>
<circle cx="-50.3" cy="-22.6" r="1.6" fill="#ffe600"/><circle cx="49.5" cy="-22.6" r="1.6" fill="#ffe600"/>
<rect x="-34.8" y="-57" width="69.4" height="57" rx="9" fill="#e2e2e2"/>
<rect x="-33" y="-55.6" width="65.8" height="53" rx="7.5" fill="#ffffff"/>
<rect x="-14.8" y="-51.3" width="29.2" height="12" rx="2.6" fill="#ffe600"/>
<rect x="-9.6" y="-48.5" width="18.7" height="1" fill="#a89200"/>
<rect x="-9.6" y="-46.2" width="18.7" height="1" fill="#a89200"/>
<rect x="-9.6" y="-43.9" width="18.7" height="1" fill="#a89200"/>
<rect x="-9.6" y="-41.6" width="18.7" height="1" fill="#a89200"/>
<rect x="-11.8" y="-36.5" width="9.6" height="3.3" rx="0.6" fill="#ffe600"/>
<rect x="1.6" y="-36.5" width="9.6" height="3.3" rx="0.6" fill="#ffe600"/>
<rect x="-30.1" y="-35" width="3.4" height="3.5" fill="#7a7a7a"/>
<rect x="-30.1" y="-29" width="3.4" height="3.5" fill="#cfcfcf"/>
<rect x="-30.1" y="-23" width="3.4" height="3.5" fill="#e4e4e4"/>
<rect x="-18.9" y="-7.5" width="36.9" height="3.2" fill="#ffe600"/>
<g transform="translate(-0.6,-20.7)"><circle cx="0.6" cy="0.6" r="6.1" fill="#c4002f"/></g>
<ellipse cx="0.05" cy="-90" rx="36.1" ry="30.8" fill="url(#headg)"/>
<ellipse cx="0" cy="-85.8" rx="27.6" ry="23.1" fill="#8c8c8c"/>
<ellipse cx="0" cy="-85.8" rx="26.9" ry="22.5" fill="#070707"/>
<ellipse cx="-11.4" cy="-92.8" rx="7.5" ry="4.8" fill="#0f9b9b"/>
<ellipse cx="11.5" cy="-92.8" rx="7.5" ry="4.8" fill="#0f9b9b"/>
<path d="M-8.4,-77 L-0.8,-74.6 L6.8,-77" fill="none" stroke="#5e4d10" stroke-width="1"/>
</g>
<g transform="translate(800.8,601) scale(1.0)">
<g transform="translate(-46.2,-35.3) rotate(14)"><ellipse rx="8.8" ry="20" fill="url(#armg)" stroke="#d9d9e0" stroke-width="1.5"/></g>
<g transform="translate(45.6,-35.3) rotate(-14)"><ellipse rx="8.8" ry="20" fill="url(#armg)" stroke="#d9d9e0" stroke-width="1.5"/></g>
<circle cx="-50.3" cy="-22.6" r="1.6" fill="#ffe600"/><circle cx="49.5" cy="-22.6" r="1.6" fill="#ffe600"/>
<rect x="-34.8" y="-57" width="69.4" height="57" rx="9" fill="#e2e2e2"/>
<rect x="-33" y="-55.6" width="65.8" height="53" rx="7.5" fill="#ffffff"/>
<rect x="-14.8" y="-51.3" width="29.2" height="12" rx="2.6" fill="#ffe600"/>
<rect x="-9.6" y="-48.5" width="18.7" height="1" fill="#a89200"/>
<rect x="-9.6" y="-46.2" width="18.7" height="1" fill="#a89200"/>
<rect x="-9.6" y="-43.9" width="18.7" height="1" fill="#a89200"/>
<rect x="-9.6" y="-41.6" width="18.7" height="1" fill="#a89200"/>
<rect x="-11.8" y="-36.5" width="9.6" height="3.3" rx="0.6" fill="#ffe600"/>
<rect x="1.6" y="-36.5" width="9.6" height="3.3" rx="0.6" fill="#ffe600"/>
<rect x="-30.1" y="-35" width="3.4" height="3.5" fill="#7a7a7a"/>
<rect x="-30.1" y="-29" width="3.4" height="3.5" fill="#cfcfcf"/>
<rect x="-30.1" y="-23" width="3.4" height="3.5" fill="#e4e4e4"/>
<rect x="-18.9" y="-7.5" width="36.9" height="3.2" fill="#ffe600"/>
<g transform="translate(-0.6,-20.7)"><g transform="rotate(13)"><circle r="5.3" fill="#08357a"/><path d="M-5.3,0 A5.3,5.3 0 0 1 5.3,0 A2.65,2.65 0 0 0 0,0 A2.65,2.65 0 0 1 -5.3,0 Z" fill="#ca1231"/></g><g transform="translate(-8.0,-5.3) rotate(123.52447324857695)" fill="#0a0a0a"><rect x="-2.65" y="-1.76" width="5.30" height="0.87"/><rect x="-2.65" y="-0.44" width="5.30" height="0.87"/><rect x="-2.65" y="0.89" width="5.30" height="0.87"/></g><g transform="translate(8.0,5.3) rotate(-56.47552675142304)" fill="#0a0a0a"><rect x="-2.65" y="-1.76" width="2.33" height="0.87"/><rect x="0.32" y="-1.76" width="2.33" height="0.87"/><rect x="-2.65" y="-0.44" width="2.33" height="0.87"/><rect x="0.32" y="-0.44" width="2.33" height="0.87"/><rect x="-2.65" y="0.89" width="2.33" height="0.87"/><rect x="0.32" y="0.89" width="2.33" height="0.87"/></g><g transform="translate(8.0,-5.3) rotate(56.47552675142304)" fill="#0a0a0a"><rect x="-2.65" y="-1.76" width="2.33" height="0.87"/><rect x="0.32" y="-1.76" width="2.33" height="0.87"/><rect x="-2.65" y="-0.44" width="5.30" height="0.87"/><rect x="-2.65" y="0.89" width="2.33" height="0.87"/><rect x="0.32" y="0.89" width="2.33" height="0.87"/></g><g transform="translate(-8.0,5.3) rotate(236.47552675142305)" fill="#0a0a0a"><rect x="-2.65" y="-1.76" width="5.30" height="0.87"/><rect x="-2.65" y="-0.44" width="2.33" height="0.87"/><rect x="0.32" y="-0.44" width="2.33" height="0.87"/><rect x="-2.65" y="0.89" width="5.30" height="0.87"/></g></g>
<ellipse cx="0.05" cy="-90" rx="36.1" ry="30.8" fill="url(#headg)"/>
<ellipse cx="0" cy="-85.8" rx="27.6" ry="23.1" fill="#8c8c8c"/>
<ellipse cx="0" cy="-85.8" rx="26.9" ry="22.5" fill="#070707"/>
<ellipse cx="-11.4" cy="-92.8" rx="7.5" ry="4.8" fill="#0f9b9b"/>
<ellipse cx="11.5" cy="-92.8" rx="7.5" ry="4.8" fill="#0f9b9b"/>
<path d="M-8.4,-77 L-0.8,-74.6 L6.8,-77" fill="none" stroke="#5e4d10" stroke-width="1"/>
</g>
<rect x="0" y="708" width="1000" height="43" fill="#000000"/>
<polygon points="697,724 729.8,712 729.8,718" fill="#ffe600"/>
<g fill="none" stroke="#ffe600" stroke-width="1.9" stroke-linecap="butt">
<path d="M748.7,727.2 A8.1,8.1 0 1 1 761.5,732.3 C759.5,733.6 757.2,734.2 757.2,736.2 L757.2,738.3"/>
<circle cx="756.8" cy="725.5" r="4.5"/>
<circle cx="756.8" cy="725.5" r="1.4" stroke-width="1.3"/>
</g>
<rect x="756.0" y="739.6" width="2.5" height="2.5" fill="#ffe600"/>
<rect x="34" y="135" width="152" height="2" fill="#ffe600"/>
<text y="62.2" font-size="39.5" font-weight="700" fill="#ffffff" stroke="#ffffff" stroke-width="0.5"><tspan x="31.27" textLength="207.13" lengthAdjust="spacingAndGlyphs">L'industrie</tspan> <tspan x="250.91" textLength="63.57" lengthAdjust="spacingAndGlyphs">4.0</tspan> <tspan x="324.8" textLength="90.79" lengthAdjust="spacingAndGlyphs">dans</tspan> <tspan x="428.32" textLength="31.99" lengthAdjust="spacingAndGlyphs">le</tspan> <tspan x="473.47" textLength="125.84" lengthAdjust="spacingAndGlyphs">monde</tspan></text>
<text y="111.3" font-size="39.5" font-weight="700" fill="#ffe600" stroke="#ffe600" stroke-width="0.5"><tspan x="31.66" textLength="73.68" lengthAdjust="spacingAndGlyphs">Une</tspan> <tspan x="117.77" textLength="171.22" lengthAdjust="spacingAndGlyphs">industrie</tspan> <tspan x="300.8" textLength="45.53" lengthAdjust="spacingAndGlyphs">de</tspan> <tspan x="358.05" textLength="79.54" lengthAdjust="spacingAndGlyphs">plus</tspan> <tspan x="449.46" textLength="45.98" lengthAdjust="spacingAndGlyphs">en</tspan> <tspan x="506.45" textLength="79.54" lengthAdjust="spacingAndGlyphs">plus</tspan> <tspan x="598.39" textLength="178.16" lengthAdjust="spacingAndGlyphs">robotisée</tspan></text>
<text y="212.4" font-size="26.4" font-weight="400" fill="#f4f4f4" stroke="#f4f4f4" stroke-width="0.65" transform="scale(1.07,1)"><tspan x="32.79" letter-spacing="1.066">Nombre</tspan> <tspan x="140.95" letter-spacing="0.020">de</tspan> <tspan x="179.18" letter-spacing="1.717">robots</tspan></text>
<text y="244.2" font-size="26.4" font-weight="400" fill="#f4f4f4" stroke="#f4f4f4" stroke-width="0.65" transform="scale(1.07,1)"><tspan x="33.25" letter-spacing="1.169">pour</tspan> <tspan x="100.79" letter-spacing="0.780">10</tspan> <tspan x="141.02" letter-spacing="2.839">000</tspan> <tspan x="200.37" letter-spacing="0.764">employés</tspan> <tspan x="328.30">:</tspan></text>
<text y="445.7" font-size="49.5" font-weight="700" fill="#ffffff"><tspan x="155.92" textLength="86.83" lengthAdjust="spacingAndGlyphs">125</tspan></text>
<text y="346.8" font-size="49.5" font-weight="700" fill="#ffffff"><tspan x="356.68" textLength="87.62" lengthAdjust="spacingAndGlyphs">282</tspan></text>
<text y="321.9" font-size="49.5" font-weight="700" fill="#ffffff"><tspan x="556.3" textLength="87.08" lengthAdjust="spacingAndGlyphs">323</tspan></text>
<text y="251.4" font-size="49.5" font-weight="700" fill="#ffffff"><tspan x="755.69" textLength="89.16" lengthAdjust="spacingAndGlyphs">437</tspan></text>
<text y="476.8" font-size="28" font-weight="700" fill="#a6a6a6"><tspan x="155.85" textLength="87.51" lengthAdjust="spacingAndGlyphs">robots</tspan></text>
<text y="378.8" font-size="28" font-weight="700" fill="#a6a6a6"><tspan x="355.95" textLength="87.4" lengthAdjust="spacingAndGlyphs">robots</tspan></text>
<text y="353.8" font-size="28" font-weight="700" fill="#a6a6a6"><tspan x="556.16" textLength="86.78" lengthAdjust="spacingAndGlyphs">robots</tspan></text>
<text y="281.3" font-size="28" font-weight="700" fill="#a6a6a6"><tspan x="756.67" textLength="86.58" lengthAdjust="spacingAndGlyphs">robots</tspan></text>
<text y="638.1" font-size="31.6" font-weight="700" fill="#6cc5b0"><tspan x="144.38" textLength="108.86" lengthAdjust="spacingAndGlyphs">France</tspan></text>
<text y="638.1" font-size="31.6" font-weight="700" fill="#6cc5b0"><tspan x="311.14" textLength="175.25" lengthAdjust="spacingAndGlyphs">Allemagne</tspan></text>
<text y="638.1" font-size="31.6" font-weight="700" fill="#6cc5b0"><tspan x="552.52" textLength="93.76" lengthAdjust="spacingAndGlyphs">Japon</tspan></text>
<text y="638.1" font-size="31.6" font-weight="700" fill="#6cc5b0"><tspan x="693.36" textLength="92.76" lengthAdjust="spacingAndGlyphs">Corée</tspan> <tspan x="794.48" textLength="42.3" lengthAdjust="spacingAndGlyphs">du</tspan> <tspan x="845.08" textLength="60.01" lengthAdjust="spacingAndGlyphs">Sud</tspan></text>
<text y="734" font-size="16.2" font-weight="400" fill="#ffffff"><tspan x="25.28" textLength="50.02" lengthAdjust="spacingAndGlyphs">Source</tspan> <tspan x="79.45">:</tspan> <tspan x="92.41" textLength="105.17" lengthAdjust="spacingAndGlyphs">l’International</tspan> <tspan x="201.74" textLength="79.24" lengthAdjust="spacingAndGlyphs">Federation</tspan> <tspan x="284.48" textLength="14.29" lengthAdjust="spacingAndGlyphs">of</tspan> <tspan x="303.48" textLength="62.4" lengthAdjust="spacingAndGlyphs">Robotics</tspan> <tspan x="370.78" textLength="37.87" lengthAdjust="spacingAndGlyphs">(IFR).</tspan></text>
<text y="744.2" font-size="22.2" font-weight="700" fill="#ffffff" stroke="#ffffff" stroke-width="1.2" stroke-linejoin="miter"><tspan x="696.17" textLength="28.58" lengthAdjust="spacingAndGlyphs">EY</tspan></text>
<text y="738.9" font-size="16.4" fill="#ffffff"><tspan x="771.97" textLength="69.49" lengthAdjust="spacingAndGlyphs">Questions</tspan> <tspan x="845.35" textLength="17.13" lengthAdjust="spacingAndGlyphs">de</tspan> <tspan x="867.11" textLength="111.17" lengthAdjust="spacingAndGlyphs" font-weight="700" fill="#ffe600">transformation</tspan></text>
</svg></div></body></html>
